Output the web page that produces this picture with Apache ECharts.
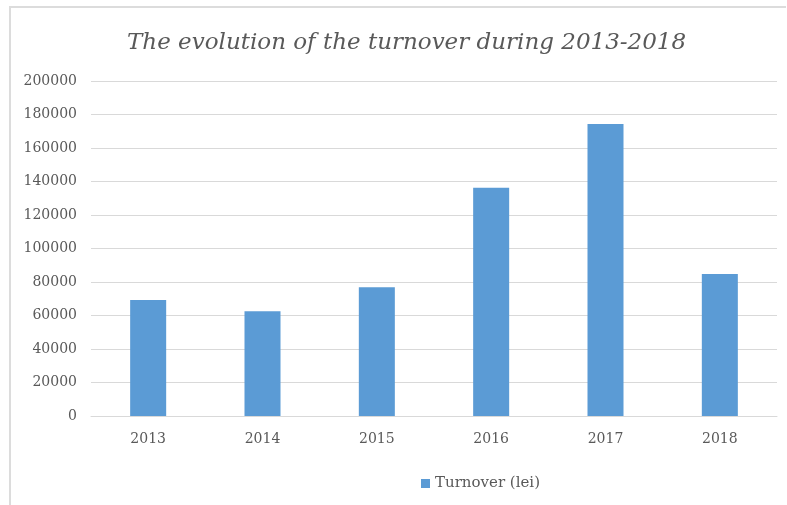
<!DOCTYPE html>
<html>
<head>
<meta charset="utf-8">
<script src="https://cdn.jsdelivr.net/npm/echarts@6/dist/echarts.min.js"></script>
<style>
  html, body { margin: 0; padding: 0; background: #fff; }
  #chart { width: 787px; height: 505px; }
</style>
</head>
<body>
<div id="chart"></div>
<script>
// Annual turnover, in lei
const years = ['2013', '2014', '2015', '2016', '2017', '2018'];
const turnover = [69300, 62500, 76800, 136300, 174300, 84800];
const yTicks = { min: 0, max: 200000, step: 20000 };

const chart = echarts.init(document.getElementById('chart'), null, { renderer: 'canvas' });
const serif = 'DejaVu Serif';
const textGray = '#595959';
const frame = { color: '#dcdcdc', width: 2 };

chart.setOption({
  backgroundColor: '#ffffff',
  animation: false,
  graphic: [
    {
      type: 'line', silent: true,
      shape: { x1: 9, y1: 7, x2: 786, y2: 7 },
      style: { stroke: frame.color, lineWidth: frame.width }
    },
    {
      type: 'line', silent: true,
      shape: { x1: 10, y1: 7, x2: 10, y2: 505 },
      style: { stroke: frame.color, lineWidth: frame.width }
    }
  ],
  title: {
    text: 'The evolution of the turnover during 2013-2018',
    left: 122,
    top: 27,
    textStyle: {
      fontFamily: serif,
      fontStyle: 'italic',
      fontWeight: 'normal',
      fontSize: 23,
      color: textGray
    }
  },
  legend: {
    bottom: 9,
    left: 416,
    itemWidth: 9,
    itemHeight: 9,
    itemGap: 5,
    icon: 'rect',
    textStyle: { fontFamily: serif, fontSize: 15, color: textGray },
    data: ['Turnover (lei)']
  },
  grid: { left: 91, right: 10, top: 81, bottom: 89, containLabel: false },
  xAxis: {
    type: 'category',
    data: years,
    axisLine: { lineStyle: { color: '#d9d9d9', width: 1 } },
    axisTick: { show: false },
    axisLabel: { fontFamily: serif, fontSize: 14, color: textGray, margin: 16 }
  },
  yAxis: {
    type: 'value',
    min: yTicks.min,
    max: yTicks.max,
    interval: yTicks.step,
    axisLine: { show: false },
    axisTick: { show: false },
    splitLine: { lineStyle: { color: '#d9d9d9', width: 1 } },
    axisLabel: {
      fontFamily: serif, fontSize: 14, color: textGray, margin: 14,
      formatter: v => String(v)
    }
  },
  series: [{
    name: 'Turnover (lei)',
    type: 'bar',
    data: turnover,
    barWidth: '31.5%',
    itemStyle: { color: '#5b9bd5' }
  }]
});
</script>
</body>
</html>
